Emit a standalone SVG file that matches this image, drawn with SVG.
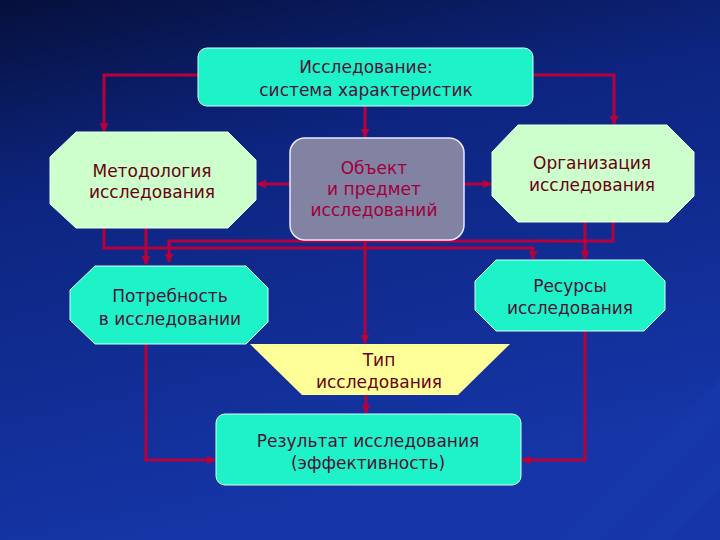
<svg xmlns="http://www.w3.org/2000/svg" width="720" height="540" viewBox="0 0 720 540">
<defs>
<linearGradient id="bg" x1="0" y1="0" x2="0.3" y2="1">
<stop offset="0" stop-color="#06103c"/>
<stop offset="0.35" stop-color="#0d2580"/>
<stop offset="1" stop-color="#1636a8"/>
</linearGradient>
<marker id="ah" viewBox="0 0 10 10" refX="9" refY="5" markerWidth="3" markerHeight="3" orient="auto" markerUnits="strokeWidth">
<path d="M0,0 L10,5 L0,10 z" fill="#b8003c"/>
</marker>
<style>
.ln{fill:none;stroke:#b8003c;stroke-width:3;marker-end:url(#ah)}
.aqua{fill:#1ef2c8;stroke:#d8fff4;stroke-width:1}
.green{fill:#ccffcc;stroke:#e8ffe8;stroke-width:1}
.grey{fill:#8282a2;stroke:#e8e8ff;stroke-width:1.5}
.yel{fill:#ffff99}
text{font-family:"DejaVu Sans","Liberation Sans",sans-serif;font-size:17px;text-anchor:middle}
.t1{fill:#4a1238}
.t2{fill:#6a0010}
.t3{fill:#a0003a}
</style>
</defs>
<rect width="720" height="540" fill="url(#bg)"/>
<path d="M560,540 L720,380 L720,420 L600,540 Z" fill="#1a3cb0" opacity="0.4"/>
<path d="M640,540 L720,460 L720,490 L670,540 Z" fill="#1a3cb0" opacity="0.4"/>

<g id="connectors">
<polyline class="ln" points="198,75 104,75 104,131"/>
<polyline class="ln" points="533,75 614,75 614,124"/>
<polyline class="ln" points="365,106 365,137"/>
<polyline class="ln" points="290,184 258,184"/>
<polyline class="ln" points="464,184 491,184"/>
<polyline class="ln" points="146,228 146,264"/>
<polyline class="ln" points="104,228 104,248 533,248 533,259"/>
<polyline class="ln" points="613,222 613,241 169,241 169,262"/>
<polyline class="ln" points="585,222 585,259"/>
<polyline class="ln" points="365,240 365,343"/>
<polyline class="ln" points="366,395 366,413"/>
<polyline class="ln" points="146,344 146,460 215,460"/>
<polyline class="ln" points="585,331 585,460 522,460"/>
</g>

<g id="n-top">
<rect class="aqua" x="198" y="48" width="335" height="58" rx="9"/>
<text class="t1" x="366" y="73">Исследование:</text>
<text class="t1" x="366" y="96">система характеристик</text>
</g>

<g id="n-method">
<polygon class="green" points="76,132 228,132 256,160 256,200 228,228 76,228 50,204 50,157"/>
<text class="t2" x="152" y="177">Методология</text>
<text class="t2" x="152" y="198">исследования</text>
</g>

<g id="n-object">
<rect class="grey" x="290" y="138" width="174" height="102" rx="15"/>
<text class="t3" x="374" y="174">Объект</text>
<text class="t3" x="374" y="195">и предмет</text>
<text class="t3" x="374" y="216">исследований</text>
</g>

<g id="n-org">
<polygon class="green" points="518,125 667,125 694,152 694,196 668,222 518,222 492,196 492,152"/>
<text class="t2" x="592" y="169">Организация</text>
<text class="t2" x="592" y="191">исследования</text>
</g>

<g id="n-need">
<polygon class="aqua" points="95,266 246,266 268,288 268,322 246,344 95,344 70,320 70,290"/>
<text class="t1" x="170" y="302">Потребность</text>
<text class="t1" x="170" y="325">в исследовании</text>
</g>

<g id="n-res">
<polygon class="aqua" points="496,260 644,260 665,281 665,310 644,331 496,331 475,310 475,281"/>
<text class="t1" x="570" y="292">Ресурсы</text>
<text class="t1" x="570" y="314">исследования</text>
</g>

<g id="n-type">
<polygon class="yel" points="250,344 510,344 458,395 302,395"/>
<text class="t2" x="379" y="366">Тип</text>
<text class="t2" x="379" y="388">исследования</text>
</g>

<g id="n-result">
<rect class="aqua" x="216" y="414" width="305" height="71" rx="9"/>
<text class="t1" x="368" y="447">Результат исследования</text>
<text class="t1" x="368" y="469">(эффективность)</text>
</g>
</svg>
